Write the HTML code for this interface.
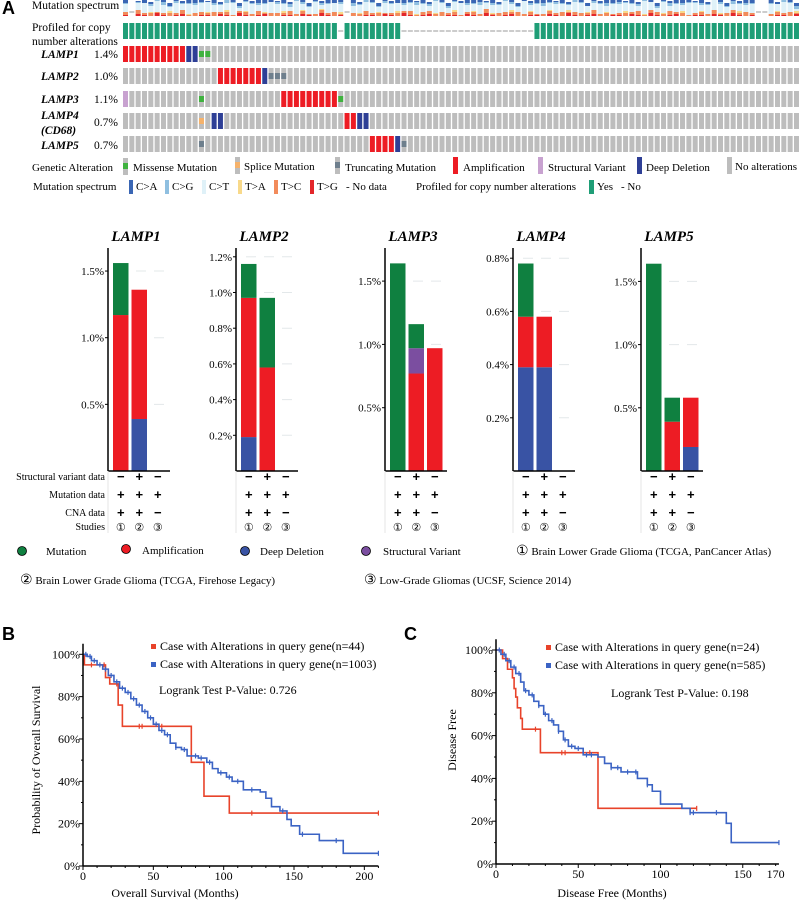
<!DOCTYPE html>
<html><head><meta charset="utf-8"><style>
html,body{margin:0;padding:0;background:#fff;}
svg{display:block;font-family:"Liberation Serif",serif;}
.sans{font-family:"Liberation Sans",sans-serif;}
</style></head><body>
<svg id="fig" width="800" height="903" viewBox="0 0 800 903" xmlns="http://www.w3.org/2000/svg">
<g id="panelA">
<text x="2" y="14" class="sans" font-size="18" font-weight="bold">A</text>
<text x="32" y="9" font-size="11.5">Mutation spectrum</text>
<text x="32" y="31" font-size="11.5">Profiled for copy</text>
<text x="32" y="45" font-size="11.5">number alterations</text>
<g font-weight="bold" font-style="italic" font-size="11.5">
<text x="41" y="58">LAMP1</text>
<text x="41" y="80">LAMP2</text>
<text x="41" y="103">LAMP3</text>
<text x="41" y="119">LAMP4</text>
<text x="41" y="134">(CD68)</text>
<text x="41" y="149">LAMP5</text>
</g>
<g font-size="11.5" text-anchor="end">
<text x="118" y="58">1.4%</text>
<text x="118" y="80">1.0%</text>
<text x="118" y="103">1.1%</text>
<text x="118" y="126">0.7%</text>
<text x="118" y="149">0.7%</text>
</g>
<g id="onco"></g>
<g font-size="11">
<text x="32" y="171">Genetic Alteration</text>
<rect x="123" y="158" width="5" height="17" fill="#bdbdbd"/><rect x="123" y="163" width="5" height="6" fill="#3fb23f"/>
<text x="133" y="171">Missense Mutation</text>
<rect x="235" y="157" width="5" height="17" fill="#bdbdbd"/><rect x="235" y="162" width="5" height="6" fill="#f5b26b"/>
<text x="244" y="170">Splice Mutation</text>
<rect x="335" y="157" width="5" height="17" fill="#bdbdbd"/><rect x="335" y="162" width="5" height="6" fill="#6e7f8d"/>
<text x="345" y="171">Truncating Mutation</text>
<rect x="453" y="157" width="5" height="17" fill="#ed1c24"/>
<text x="463" y="171">Amplification</text>
<rect x="538" y="157" width="5" height="17" fill="#c8a2d0"/>
<text x="548" y="171">Structural Variant</text>
<rect x="637" y="157" width="5" height="17" fill="#2e3f96"/>
<text x="646" y="171">Deep Deletion</text>
<rect x="727" y="157" width="5" height="17" fill="#bdbdbd"/>
<text x="735" y="170">No alterations</text>
<text x="33" y="190">Mutation spectrum</text>
<rect x="129" y="180" width="4" height="14" fill="#3a66b4"/><text x="136" y="190">C&gt;A</text>
<rect x="165" y="180" width="4" height="14" fill="#8fbfe0"/><text x="172" y="190">C&gt;G</text>
<rect x="202" y="180" width="4" height="14" fill="#dff1f8"/><text x="209" y="190">C&gt;T</text>
<rect x="238" y="180" width="4" height="14" fill="#f8d98a"/><text x="245" y="190">T&gt;A</text>
<rect x="274" y="180" width="4" height="14" fill="#f28b5b"/><text x="281" y="190">T&gt;C</text>
<rect x="310" y="180" width="4" height="14" fill="#e3262a"/><text x="317" y="190">T&gt;G</text>
<text x="346" y="190">- No data</text>
<text x="416" y="190">Profiled for copy number alterations</text>
<rect x="589" y="180" width="5" height="14" fill="#1f9e77"/><text x="597" y="190">Yes</text>
<text x="621" y="190">- No</text>
</g>
</g>
<g id="bars"></g>
<g font-size="11">
<circle cx="22" cy="551" r="4.5" fill="#0f8040" stroke="#000" stroke-width="0.8"/>
<text x="46" y="555">Mutation</text>
<circle cx="126" cy="549" r="4.5" fill="#ed1c24" stroke="#000" stroke-width="0.8"/>
<text x="142" y="554">Amplification</text>
<circle cx="245" cy="551" r="4.5" fill="#3953a4" stroke="#000" stroke-width="0.8"/>
<text x="260" y="555">Deep Deletion</text>
<circle cx="366" cy="551" r="4.5" fill="#7b4ea0" stroke="#000" stroke-width="0.8"/>
<text x="383" y="555">Structural Variant</text>
<text x="516" y="555" font-size="11"><tspan font-size="14">①</tspan> Brain Lower Grade Glioma (TCGA, PanCancer Atlas)</text>
<text x="20" y="584" font-size="11"><tspan font-size="14">②</tspan>  Brain Lower Grade Glioma (TCGA, Firehose Legacy)</text>
<text x="364" y="584" font-size="11"><tspan font-size="14">③</tspan> Low-Grade Gliomas (UCSF, Science 2014)</text>
</g>
<text x="2" y="640" class="sans" font-size="18" font-weight="bold">B</text>
<text x="404" y="640" class="sans" font-size="18" font-weight="bold">C</text>
<g id="kmB"></g>
<g id="kmC"></g>
</svg>
<script>
const NS="http://www.w3.org/2000/svg";
function mk(tag,attrs,parent){const e=document.createElementNS(NS,tag);for(const k in attrs)e.setAttribute(k,attrs[k]);parent.appendChild(e);return e;}

/* ---------- Oncoprint ---------- */
const nCols=107;
const profiledNo=[34,44,45,46,47,48,49,50,51,52,53,54,55,56,57,58,59,60,61,62,63,64];
const lamp1Amp=[0,1,2,3,4,5,6,7,8,9], lamp1Del=[10,11], lamp1Mis=[12,13];
const lamp2Amp=[15,16,17,18,19,20,21], lamp2Del=[22], lamp2Trunc=[23,24,25];
const lamp3Sv=[0], lamp3Mis=[12,34], lamp3Amp=[25,26,27,28,29,30,31,32,33];
const lamp4Spl=[12], lamp4Del=[14,15,37,38], lamp4Amp=[35,36];
const lamp5Trunc=[12,44], lamp5Amp=[39,40,41,42], lamp5Del=[43];
const specNoData=[1,35,100,101];
const specCA=[3,2,1,3,2,0,2,3,1,2,3];
const specCG=[1,2,1,0,2,1,3,1,2,1];
const specTA=[0,1,0,0,1,0,0,2,0];
const specTC=[3,2,4,2,3,1,2,3,2,4,1,3];
const specTG=[1,0,2,1,0,3,1,0,1,2,0,0,1];
const specH=[16,16,15,16,14,16,16,13,16,15,16];
const onco=document.getElementById('onco');
const x0=123,pitch=6.33,bw=5;
const rowY=[46,68,91,113,136],rowH=16;
const rows=[
 {amp:lamp1Amp,del:lamp1Del,mis:lamp1Mis,trunc:[],spl:[],sv:[]},
 {amp:lamp2Amp,del:lamp2Del,mis:[],trunc:lamp2Trunc,spl:[],sv:[]},
 {amp:lamp3Amp,del:[],mis:lamp3Mis,trunc:[],spl:[],sv:lamp3Sv},
 {amp:lamp4Amp,del:lamp4Del,mis:[],trunc:[],spl:lamp4Spl,sv:[]},
 {amp:lamp5Amp,del:lamp5Del,mis:[],trunc:lamp5Trunc,spl:[],sv:[]}];
for(let c=0;c<nCols;c++){
  const x=x0+c*pitch;
  // spectrum
  if(specNoData.includes(c)){
    const d=mk('line',{x1:x,x2:x+bw,y1:12,y2:12,stroke:'#999','stroke-width':1},onco);
    
    
  } else {
    const h=specH[c%specH.length];let y=16;
    const segs=[[specTG[c%specTG.length],'#e3262a'],[specTC[c%specTC.length],'#f28b5b'],[specTA[c%specTA.length],'#f8d98a']];
    const top=16-h;const ca=specCA[c%specCA.length],cg=specCG[c%specCG.length];
    let used=0;segs.forEach(s=>used+=s[0]);
    const ct=h-used-ca-cg;
    const all=[[segs[0][0],segs[0][1]],[segs[1][0],segs[1][1]],[segs[2][0],segs[2][1]],[ct,'#dff1f8'],[cg,'#8fbfe0'],[ca,'#3a66b4']];
    all.forEach(s=>{if(s[0]>0){y-=s[0];const r=mk('rect',{x:x,y:y,width:bw,height:s[0],fill:s[1]},onco);
      
      }});
  }
  // profiled
  if(profiledNo.includes(c)){
    const d=mk('line',{x1:x,x2:x+bw,y1:31,y2:31,stroke:'#999','stroke-width':1},onco);
    
    
  } else {
    const r=mk('rect',{x:x,y:23,width:bw,height:16,fill:'#1f9e77'},onco);
    
    
  }
  rows.forEach((rw,i)=>{
    let fill='#bdbdbd';
    if(rw.amp.includes(c))fill='#ed1c24';
    else if(rw.del.includes(c))fill='#2e3f96';
    else if(rw.sv.includes(c))fill='#c8a2d0';
    const r=mk('rect',{x:x,y:rowY[i],width:bw,height:rowH,fill:fill},onco);
    
    
    let mf=null;
    if(rw.mis.includes(c))mf='#3fb23f';else if(rw.trunc.includes(c))mf='#6e7f8d';else if(rw.spl.includes(c))mf='#f5b26b';
    if(mf){const m=mk('rect',{x:x,y:rowY[i]+5,width:bw,height:6,fill:mf},onco);
      
      }
  });
}

/* ---------- Alteration frequency bars ---------- */
const genes=['LAMP1','LAMP2','LAMP3','LAMP4','LAMP5'];
const delVals=[[0,0.39,0],[0.19,0,0],[0,0,0],[0.39,0.39,0],[0,0,0.19]];
const ampVals=[[1.17,0.97,0],[0.78,0.58,0],[0,0.77,0.97],[0.19,0.19,0],[0,0.39,0.39]];
const svVals=[[0,0,0],[0,0,0],[0,0.2,0],[0,0,0],[0,0,0]];
const mutVals=[[0.39,0,0],[0.19,0.39,0],[1.64,0.19,0],[0.2,0,0],[1.64,0.19,0]];
const tickVals=[[0.5,1.0,1.5],[0.2,0.4,0.6,0.8,1.0,1.2],[0.5,1.0,1.5],[0.2,0.4,0.6,0.8],[0.5,1.0,1.5]];
const svData=['−','+','−'], mutData=['+','+','+'], cnaData=['+','+','−'], studyLbl=['①','②','③'];
const panels=[{ax:108,ppu:133.3,dec:1},{ax:236,ppu:178.5,dec:1},{ax:385,ppu:126.6,dec:1},{ax:513,ppu:266,dec:1},{ax:641,ppu:126.4,dec:1}];
const zeroY=471;
const barsG=document.getElementById('bars');
genes.forEach((g,gi)=>{
  const p=panels[gi];const yS=v=>zeroY-v*p.ppu;
  const t=mk('text',{x:p.ax+28,y:241,'text-anchor':'middle','font-size':15,'font-weight':'bold','font-style':'italic'},barsG);
  t.textContent=g;
  
  
  tickVals[gi].forEach(v=>{
    const y=yS(v);
    const gl=mk('line',{x1:p.ax+10,x2:p.ax+60,y1:y,y2:y,stroke:'#e3e8ea','stroke-width':1,'stroke-dasharray':'10 8'},barsG);
    
    
    const tk=mk('line',{x1:p.ax-3,x2:p.ax,y1:y,y2:y,stroke:'#000'},barsG);
    
    
    const tl=mk('text',{x:p.ax-4,y:y+4,'text-anchor':'end','font-size':11},barsG);
    tl.textContent=v.toFixed(1)+'%';
    
    
  });
  for(let s=0;s<3;s++){
    const bx=p.ax+5+s*18.5;let cum=0;
    [[delVals,'#3953a4','deep-deletion'],[ampVals,'#ed1c24','amplification'],[svVals,'#7b4ea0','structural-variant'],[mutVals,'#0f8040','mutation']].forEach(([arr,col,nm])=>{
      const v=arr[gi][s];if(v<=0)return;
      const r=mk('rect',{x:bx,y:yS(cum+v),width:15.5,height:v*p.ppu,fill:col},barsG);
      
      
      cum+=v;
    });
    const cx=bx+7.75;
    [[svData,481],[mutData,499],[cnaData,517]].forEach(([arr,yy])=>{
      const tx=mk('text',{x:cx,y:yy,'text-anchor':'middle','font-size':13,'font-weight':'bold','font-family':'Liberation Sans, sans-serif'},barsG);
      tx.textContent=arr[s];
      
      
    });
    const st=mk('text',{x:cx,y:531,'text-anchor':'middle','font-size':11},barsG);
    st.textContent=studyLbl[s];
    
    
  }
  const ya=mk('line',{x1:p.ax,x2:p.ax,y1:248,y2:zeroY,stroke:'#000','stroke-width':1.5},barsG);
  
  
  const xa=mk('line',{x1:p.ax,x2:p.ax+62,y1:zeroY,y2:zeroY,stroke:'#000','stroke-width':1.5},barsG);
  
  
  const vl=mk('line',{x1:p.ax,x2:p.ax,y1:zeroY,y2:533,stroke:'#e5e5e5','stroke-width':1},barsG);
  
  
});
[['Structural variant data',480],['Mutation data',498],['CNA data',516],['Studies',530]].forEach(([s,y])=>{
  const t=mk('text',{x:105,y:y,'text-anchor':'end','font-size':10},barsG);
  t.textContent=s;
  
  
});

/* ---------- Kaplan-Meier ---------- */
const bRedT=[0,1,16,19,25,28,77,86,104];
const bRedS=[1,0.95,0.89,0.86,0.76,0.66,0.49,0.33,0.25];
const bRedEnd=210;
const bRedCens=[6,15,24,40,42,56,120,210];
const bBlueT=[0,3,6,10,14,18,22,26,30,34,38,42,46,50,54,58,62,66,70,74,82,88,92,96,102,106,114,126,130,134,140,145,148,154,168,185];
const bBlueS=[1,0.99,0.97,0.95,0.93,0.9,0.87,0.84,0.82,0.79,0.76,0.73,0.7,0.67,0.64,0.62,0.58,0.56,0.55,0.52,0.51,0.49,0.46,0.44,0.42,0.4,0.36,0.35,0.32,0.28,0.26,0.22,0.19,0.15,0.12,0.06];
const bBlueEnd=210;
const bBlueCens=[2,5,8,12,16,20,24,28,32,36,40,44,48,52,56,60,66,72,80,84,90,98,104,110,120,142,156,180,210];
const cRedT=[0,4,7,10,11,12,13,15,16,27,62];
const cRedS=[1,0.96,0.91,0.87,0.82,0.78,0.73,0.68,0.63,0.52,0.26];
const cRedEnd=122;
const cRedCens=[24,40,42,57,122];
const cBlueT=[0,3,6,9,12,15,17,20,23,26,29,32,35,38,41,44,48,53,62,66,70,76,86,92,95,100,113,118,140,143];
const cBlueS=[1,0.98,0.95,0.92,0.89,0.85,0.81,0.79,0.76,0.74,0.7,0.67,0.65,0.62,0.58,0.55,0.54,0.51,0.5,0.47,0.45,0.43,0.4,0.37,0.34,0.28,0.26,0.24,0.19,0.1];
const cBlueEnd=172;
const cBlueCens=[2,5,8,11,14,18,22,26,30,34,38,42,46,50,55,58,70,74,80,85,92,118,120,134,172];
const bXTicks=[0,50,100,150,200], cXTicks=[0,50,100,150,170], yTicks=[0,20,40,60,80,100];

function km(gid,o){
  const G=document.getElementById(gid);
  const xS=t=>o.x0+t*o.pxm, yS=s=>o.y0-s*o.pxs;
  function curve(T,S,end,cens,col,nm){
    let d='M'+xS(T[0])+','+yS(S[0]);
    for(let i=1;i<T.length;i++){d+='H'+xS(T[i])+'V'+yS(S[i]);}
    d+='H'+xS(end);
    const p=mk('path',{d:d,fill:'none',stroke:col,'stroke-width':1.6},G);
    
    
    cens.forEach(t=>{
      let s=S[0];for(let i=0;i<T.length;i++){if(T[i]<=t)s=S[i];}
      const c=mk('line',{x1:xS(t),x2:xS(t),y1:yS(s)-2.5,y2:yS(s)+2.5,stroke:col,'stroke-width':1.2},G);
      
      
    });
  }
  curve(o.rT,o.rS,o.rEnd,o.rC,'#e8432a','altered');
  curve(o.bT,o.bS,o.bEnd,o.bC,'#3b63c4','unaltered');
  const ya=mk('line',{x1:o.x0,x2:o.x0,y1:o.y0-o.pxs*1.05,y2:o.y0,stroke:'#000','stroke-width':1.5},G);
  
  
  const xa=mk('line',{x1:o.x0,x2:xS(o.xmax),y1:o.y0,y2:o.y0,stroke:'#000','stroke-width':1.5},G);
  
  
  for(let v=0;v<=100;v+=10){const y=yS(v/100);const t=mk('line',{x1:o.x0-(v%20?2:4),x2:o.x0,y1:y,y2:y,stroke:'#000'},G);
    
    }
  yTicks.forEach(v=>{const l=mk('text',{x:o.x0-3,y:yS(v/100)+4,'text-anchor':'end','font-size':12},G);l.textContent=v+'%';
    
    });
  for(let t=0;t<=o.xmax;t+=10){const x=xS(t);const tk=mk('line',{x1:x,x2:x,y1:o.y0,y2:o.y0+(t%50?2:4),stroke:'#000'},G);
    
    }
  o.xt.forEach(t=>{const l=mk('text',{x:xS(t),y:o.y0+14,'text-anchor':'middle','font-size':12},G);l.textContent=t;
    
    });
  const xt=mk('text',{x:o.xtX,y:o.xtY,'text-anchor':'middle','font-size':12},G);xt.textContent=o.xTitle;
  
  
  const yt=mk('text',{x:0,y:0,'text-anchor':'middle','font-size':12,transform:'translate('+o.ytX+','+o.ytY+') rotate(-90)'},G);yt.textContent=o.yTitle;
  
  
  [[o.lgY,'#e8432a',o.l1],[o.lgY+18,'#3b63c4',o.l2]].forEach(([y,c,s])=>{
    const sq=mk('rect',{x:o.lgX,y:y-4,width:5,height:5,fill:c},G);
    
    
    const t=mk('text',{x:o.lgX+9,y:y+2,'font-size':12},G);t.textContent=s;
    
    
  });
  const lr=mk('text',{x:o.lrX,y:o.lrY,'font-size':12},G);lr.textContent=o.lr;
  
  
}
km('kmB',{x0:83,y0:866,pxm:1.4067,pxs:211.7,xmax:210,xt:bXTicks,rT:bRedT,rS:bRedS,rEnd:bRedEnd,rC:bRedCens,bT:bBlueT,bS:bBlueS,bEnd:bBlueEnd,bC:bBlueCens,
  xTitle:'Overall Survival (Months)',xtX:175,xtY:897,yTitle:'Probability of Overall Survival',ytX:40,ytY:760,
  lgX:151,lgY:648,l1:'Case with Alterations in query gene(n=44)',l2:'Case with Alterations in query gene(n=1003)',lr:'Logrank Test P-Value: 0.726',lrX:159,lrY:694});
km('kmC',{x0:496,y0:864,pxm:1.645,pxs:214,xmax:172,xt:cXTicks,rT:cRedT,rS:cRedS,rEnd:cRedEnd,rC:cRedCens,bT:cBlueT,bS:cBlueS,bEnd:cBlueEnd,bC:cBlueCens,
  xTitle:'Disease Free (Months)',xtX:612,xtY:897,yTitle:'Disease Free',ytX:456,ytY:740,
  lgX:546,lgY:649,l1:'Case with Alterations in query gene(n=24)',l2:'Case with Alterations in query gene(n=585)',lr:'Logrank Test P-Value: 0.198',lrX:611,lrY:697});
</script>
</body></html>
